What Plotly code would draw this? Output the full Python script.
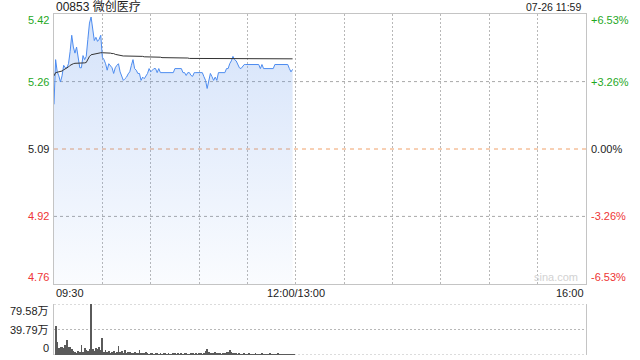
import plotly.graph_objects as go

# ---------------- data ----------------
title_text = "00853 微创医疗"
stamp_text = "07-26 11:59"
prev_close = 5.09
pct_levels = [6.53, 3.26, 0.0, -3.26, -6.53]
price_labels = ["5.42", "5.26", "5.09", "4.92", "4.76"]
pct_labels = ["+6.53%", "+3.26%", "0.00%", "-3.26%", "-6.53%"]
session_minutes = 330
time_ticks = [0, 150, 330]
time_labels = ["09:30", "12:00/13:00", "16:00"]
vol_ticks = [79.58, 39.79, 0]
vol_labels = ["79.58万", "39.79万", "0"]

price = [
    5.200, 5.310, 5.280, 5.270, 5.255, 5.270, 5.296, 5.290, 5.290, 5.300,
    5.330, 5.370, 5.341, 5.326, 5.341, 5.310, 5.290, 5.290, 5.320, 5.310,
    5.318, 5.360, 5.400, 5.415, 5.390, 5.357, 5.365, 5.355, 5.360, 5.370,
    5.316, 5.310, 5.300, 5.284, 5.300, 5.296, 5.290, 5.276, 5.290, 5.296,
    5.300, 5.280, 5.270, 5.259, 5.263, 5.267, 5.275, 5.280, 5.296, 5.310,
    5.288, 5.284, 5.276, 5.276, 5.259, 5.267, 5.263, 5.270, 5.276, 5.288,
    5.280, 5.284, 5.288, 5.288, 5.278, 5.288, 5.278, 5.278, 5.278, 5.278,
    5.278, 5.278, 5.278, 5.278, 5.278, 5.288, 5.288, 5.288, 5.288, 5.288,
    5.278, 5.278, 5.271, 5.278, 5.278, 5.271, 5.269, 5.278, 5.278, 5.278,
    5.278, 5.278, 5.278, 5.268, 5.259, 5.239, 5.255, 5.276, 5.268, 5.259,
    5.267, 5.259, 5.278, 5.278, 5.278, 5.278, 5.278, 5.288, 5.288, 5.300,
    5.307, 5.318, 5.310, 5.307, 5.300, 5.290, 5.288, 5.292, 5.298, 5.298,
    5.298, 5.298, 5.298, 5.298, 5.298, 5.298, 5.298, 5.298, 5.288, 5.298,
    5.288, 5.288, 5.288, 5.288, 5.288, 5.288, 5.288, 5.298, 5.298, 5.298,
    5.298, 5.298, 5.298, 5.298, 5.298, 5.298, 5.288, 5.280, 5.286,
]

avg_price = [
    5.270, 5.278, 5.279, 5.280, 5.280, 5.282, 5.285, 5.287, 5.289, 5.292,
    5.296, 5.299, 5.300, 5.301, 5.301, 5.301, 5.302, 5.302, 5.302, 5.302,
    5.303, 5.312, 5.318, 5.322, 5.323, 5.324, 5.325, 5.326, 5.326, 5.327,
    5.327, 5.327, 5.327, 5.326, 5.326, 5.326, 5.325, 5.325, 5.323, 5.322,
    5.321, 5.320, 5.319, 5.319, 5.319, 5.319, 5.319, 5.318, 5.318, 5.318,
    5.318, 5.318, 5.318, 5.318, 5.318, 5.318, 5.317, 5.317, 5.317, 5.317,
    5.317, 5.316, 5.316, 5.316, 5.316, 5.316, 5.316, 5.315, 5.315, 5.315,
    5.315, 5.315, 5.315, 5.315, 5.315, 5.314, 5.314, 5.314, 5.314, 5.314,
    5.314, 5.314, 5.314, 5.314, 5.313, 5.313, 5.313, 5.313, 5.313, 5.313,
    5.313, 5.313, 5.313, 5.313, 5.313, 5.313, 5.312, 5.312, 5.312, 5.312,
    5.312, 5.312, 5.312, 5.312, 5.312, 5.312, 5.312, 5.312, 5.312, 5.312,
    5.312, 5.312, 5.312, 5.312, 5.312, 5.312, 5.312, 5.312, 5.312, 5.312,
    5.312, 5.312, 5.312, 5.312, 5.312, 5.312, 5.312, 5.312, 5.312, 5.312,
    5.312, 5.312, 5.312, 5.312, 5.312, 5.312, 5.312, 5.312, 5.312, 5.312,
    5.312, 5.312, 5.312, 5.312, 5.312, 5.312, 5.312, 5.312, 5.312,
]

volume = [  # 万股 per minute
    46, 21, 11, 13, 12, 11, 16, 24, 12, 12,
    10, 6, 4, 3, 6, 4, 15, 5, 11, 8,
    6, 9, 79.58, 9, 7, 11, 10, 12, 8, 27,
    5, 8, 4, 7, 3, 5, 6, 3, 4, 14,
    4, 6, 3, 8, 3, 5, 4, 2, 3, 5,
    2, 3, 8, 2, 3, 2, 4, 2, 1.5, 3,
    2, 1.5, 2, 3, 1.5, 2, 1, 2, 3, 1.5,
    2, 1, 1.5, 2, 3, 1.5, 2, 1, 2, 1.5,
    3, 2, 1.5, 1, 2, 3, 1.5, 2, 1, 2,
    2.5, 1.5, 3, 6, 9, 4, 3, 2, 3, 4,
    2, 3, 2, 1.5, 3, 2, 4, 5, 8, 5,
    3, 2, 2, 1.5, 2, 1, 1.5, 2, 1, 1.5,
    2, 1, 1.5, 1, 2, 1, 1.5, 1, 2, 1,
    1.5, 1, 1, 2, 1, 1.5, 1, 1, 2, 1,
    1.5, 1, 1, 1.5, 1, 1, 1.5, 1, 1,
]

minutes = list(range(len(price)))
vol_minutes = [m + 1 for m in range(len(volume))]

# ---------------- styling ----------------
FONT = "Liberation Sans, Arial, Noto Sans CJK SC, sans-serif"
GREEN = "#1fa81f"
RED = "#ee3535"
GRID = "#b8b8b8"
HGRID = "#a8a8a8"
BORDER = "#c4c4c4"
DOTS = "2px,2px"

W, H = 640, 360
px_left, px_right = 54, 586
main_top, main_bot = 14, 284
vol_top, vol_bot = 304, 355

y_levels = [prev_close * (1 + p / 100) for p in pct_levels]
y_lo, y_hi = min(y_levels), max(y_levels)
inner_levels = [yv for p, yv in zip(pct_levels, y_levels) if p != 0 and yv not in (y_lo, y_hi)]

fig = go.Figure()

fig.add_trace(go.Scatter(
    x=minutes, y=price, mode="lines",
    line=dict(color="#4d8cf0", width=1),
    fill="tozeroy",
    fillgradient=dict(
        type="vertical", start=y_lo, stop=max(price),
        colorscale=[[0, "rgba(90,145,235,0.03)"], [1, "rgba(90,145,235,0.26)"]],
    ),
    hoverinfo="skip", xaxis="x", yaxis="y",
))
fig.add_trace(go.Scatter(
    x=minutes, y=avg_price, mode="lines",
    line=dict(color="#333333", width=1),
    hoverinfo="skip", xaxis="x", yaxis="y",
))
fig.add_trace(go.Bar(
    x=vol_minutes, y=volume, width=0.5,
    marker=dict(color="#5a5a5a", line=dict(width=0)),
    hoverinfo="skip", xaxis="x2", yaxis="y2",
))

def ypaper(px):
    return 1 - px / H

fig.update_layout(
    width=W, height=H,
    margin=dict(l=0, r=0, t=0, b=0),
    paper_bgcolor="white", plot_bgcolor="white",
    showlegend=False,
    bargap=0,
    font=dict(family=FONT, size=11, color="#222"),
    xaxis=dict(
        domain=[px_left / W, px_right / W], range=[0, session_minutes],
        showticklabels=False, ticks="", zeroline=False,
        showgrid=True, dtick=30, tick0=0, gridcolor=GRID, griddash=DOTS, gridwidth=1,
        showline=True, mirror=True, linecolor=BORDER, linewidth=1,
    ),
    yaxis=dict(
        domain=[ypaper(main_bot), ypaper(main_top)], range=[y_lo, y_hi],
        showticklabels=False, ticks="", zeroline=False, showgrid=False,
        showline=True, mirror=True, linecolor=BORDER, linewidth=1,
    ),
    xaxis2=dict(
        domain=[px_left / W, px_right / W], range=[0, session_minutes],
        showticklabels=False, ticks="", zeroline=False, showgrid=False,
        showline=False, anchor="y2",
    ),
    yaxis2=dict(
        domain=[ypaper(vol_bot), ypaper(vol_top)], range=[0, max(vol_ticks)],
        showticklabels=False, ticks="", zeroline=False, showgrid=False,
        showline=True, mirror=True, linecolor=BORDER, linewidth=1, anchor="x2",
    ),
)

shapes = []
shapes.append(dict(type="line", xref="x", yref="y", x0=0, x1=session_minutes,
                   y0=prev_close, y1=prev_close, layer="below",
                   line=dict(color="#f0a068", width=1, dash="4px,4px")))
for yv in inner_levels:
    shapes.append(dict(type="line", xref="x", yref="y", x0=0, x1=session_minutes,
                       y0=yv, y1=yv, layer="below",
                       line=dict(color=HGRID, width=1, dash="dot")))
for v in vol_ticks:
    shapes.append(dict(type="line", xref="x2", yref="y2", x0=0, x1=session_minutes,
                       y0=v, y1=v, layer="below",
                       line=dict(color=GRID, width=1, dash=DOTS)))
fig.update_layout(shapes=shapes)

ann = []
ann.append(dict(text=title_text, x=px_left / W, y=ypaper(7), xref="paper", yref="paper",
                xanchor="left", yanchor="middle", showarrow=False,
                font=dict(size=12, color="#222", family=FONT)))
ann.append(dict(text=stamp_text, x=583 / W, y=ypaper(7), xref="paper", yref="paper",
                xanchor="right", yanchor="middle", showarrow=False,
                font=dict(size=10.5, color="#222", family=FONT)))

for p, yv, lab, plab in zip(pct_levels, y_levels, price_labels, pct_labels):
    color = GREEN if p > 0 else (RED if p < 0 else "#222")
    shift = -6 if yv == y_hi else (7 if yv == y_lo else 0)
    ann.append(dict(text=lab, x=51 / W, y=yv, xref="paper", yref="y",
                    xanchor="right", yanchor="middle", yshift=shift, showarrow=False,
                    font=dict(size=11, color=color)))
    ann.append(dict(text=plab, x=589 / W, y=yv, xref="paper", yref="y",
                    xanchor="left", yanchor="middle", yshift=shift, showarrow=False,
                    font=dict(size=11, color=color)))

anchors = ["left", "center", "right"]
for t, lab, a in zip(time_ticks, time_labels, anchors):
    ann.append(dict(text=lab, x=t, y=ypaper(293), xref="x", yref="paper",
                    xanchor=a, yanchor="middle", showarrow=False,
                    font=dict(size=11, color="#222")))

for v, lab in zip(vol_ticks, vol_labels):
    shift = -7 if v == max(vol_ticks) else (7 if v == 0 else 0)
    ann.append(dict(text=lab, x=51 / W, y=v, xref="paper", yref="y2",
                    xanchor="right", yanchor="middle", yshift=shift, showarrow=False,
                    font=dict(size=11, color="#222")))

ann.append(dict(text="sina.com", x=580 / W, y=ypaper(277), xref="paper", yref="paper",
                xanchor="right", yanchor="middle", showarrow=False,
                font=dict(size=11, color="#d2d2d2")))

fig.update_layout(annotations=ann)

fig.write_html("out.html")
